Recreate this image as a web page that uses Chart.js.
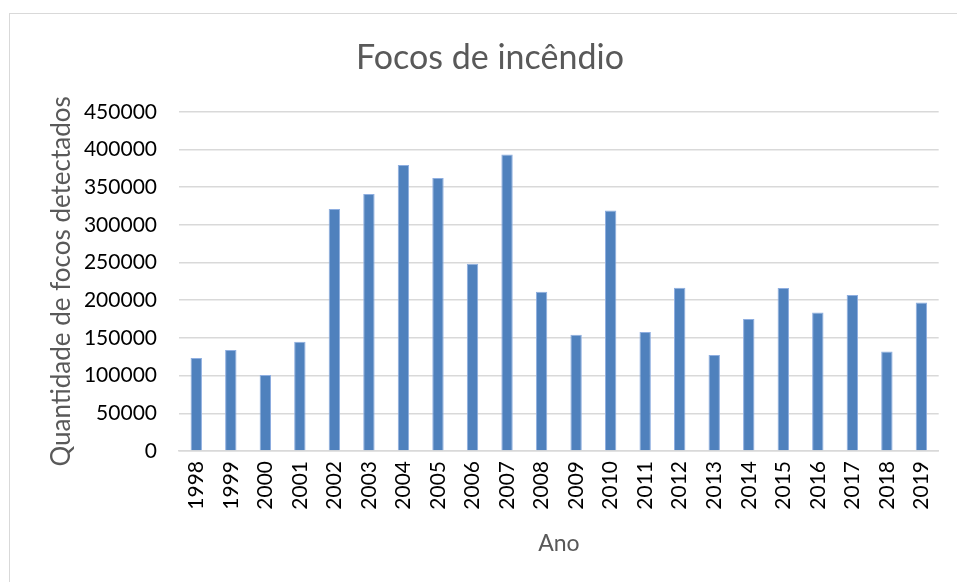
<!DOCTYPE html>
<html>
<head>
<meta charset="utf-8">
<script src="https://cdn.jsdelivr.net/npm/chart.js@4"></script>
<style>
  html, body { margin: 0; padding: 0; background: #fff; }
  #frame {
    position: absolute; left: 9px; top: 13px; right: -5px; bottom: -5px;
    border-left: 1.5px solid #d9d9d9; border-top: 1.5px solid #d9d9d9;
  }
  #wrap { position: absolute; left: 0; top: 0; width: 957px; height: 582px; }
</style>
</head>
<body>
<div id="frame"></div>
<div id="wrap"><canvas id="myChart"></canvas></div>
<script>
const anos = ['1998', '1999', '2000', '2001', '2002', '2003', '2004', '2005', '2006', '2007', '2008',
              '2009', '2010', '2011', '2012', '2013', '2014', '2015', '2016', '2017', '2018', '2019'];
const focos = [123300, 134000, 100800, 145000, 321000, 340900, 379300, 362100, 248400, 393400, 211300,
               154300, 319100, 157800, 216600, 127300, 175100, 216200, 183800, 206900, 132100, 197100];
const yMax = 450000;
const yStep = 50000;

const font = 'Lato';

const ctx = document.getElementById('myChart').getContext('2d');
const myChart = new Chart(ctx, {
    type: 'bar',
    data: {
        labels: anos,
        datasets: [
            {
            label: 'Focos',
            data: focos,
            backgroundColor: '#4f81bd',
            borderColor: '#8eaee0',
            borderWidth: { top: 1, left: 1, right: 1, bottom: 0 },
            barPercentage: 0.33,
            categoryPercentage: 1.0,
            },
        ],
    },
    options: {
        responsive: true,
        maintainAspectRatio: false,
        animation: false,
        // left padding pushes the title centre to the right, like the original
        layout: { padding: { left: 40, right: 17, top: 0, bottom: 0 } },
        plugins: {
            legend: { display: false },
            tooltip: { enabled: false },
            title: {
                display: true,
                text: 'Focos de incêndio',
                color: '#595959',
                font: { family: font, size: 34, weight: 'normal', lineHeight: 1.2 },
                padding: { top: 38, bottom: 33 },
            },
        },
        scales: {
            x: {
                grid: { display: false, drawTicks: false },
                border: { display: true, color: '#d9d9d9', width: 1.5 },
                ticks: {
                    color: '#000',
                    font: { family: font, size: 21 },
                    minRotation: 90,
                    maxRotation: 90,
                    padding: 10,
                },
                title: {
                    display: true,
                    text: 'Ano',
                    color: '#595959',
                    font: { family: font, size: 23 },
                    padding: { top: 0, bottom: 25 },
                },
                afterFit: (scale) => { scale.height = 131; },
            },
            y: {
                min: 0,
                max: yMax,
                grid: { color: '#d9d9d9', lineWidth: 1.5, drawTicks: false },
                border: { display: false },
                ticks: {
                    stepSize: yStep,
                    color: '#000',
                    font: { family: font, size: 21 },
                    padding: 22,
                    callback: (v) => String(v),
                },
                title: {
                    display: true,
                    text: 'Quantidade de focos detectados',
                    color: '#595959',
                    font: { family: font, size: 26 },
                    padding: { top: 6, bottom: 0 },
                },
                afterFit: (scale) => { scale.width = 139; },
            },
        },
    },
});
</script>
</body>
</html>
